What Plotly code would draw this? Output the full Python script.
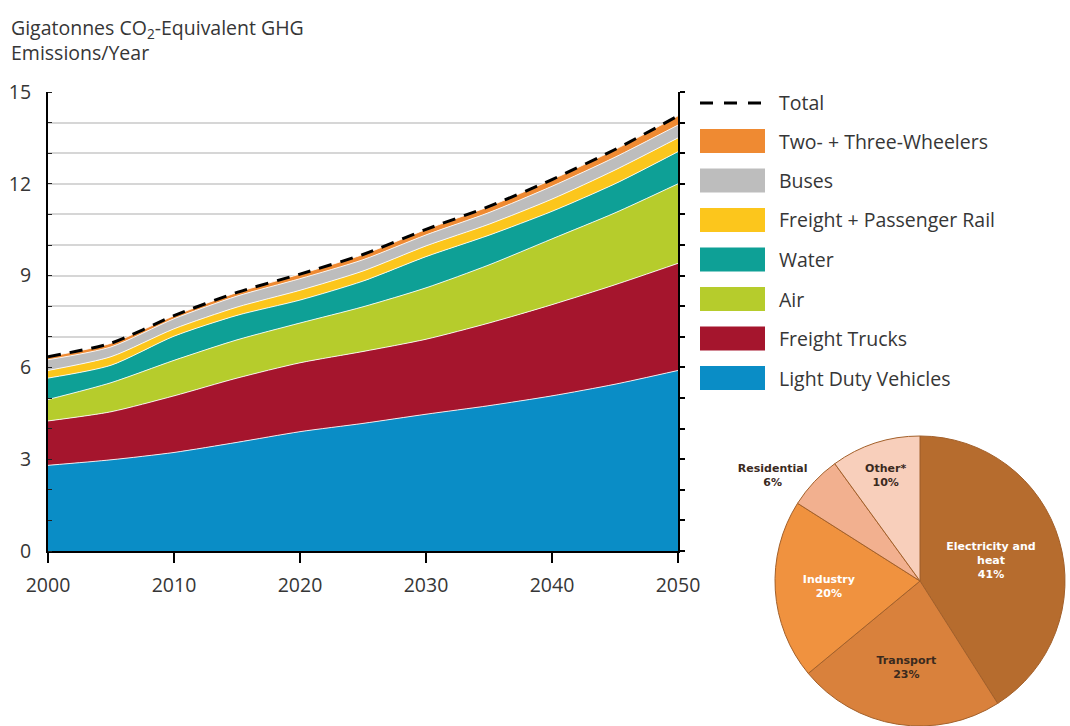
import plotly.graph_objects as go
import numpy as np

W, H = 1070, 726

# ---------------- data ----------------
years = [2000, 2005, 2010, 2015, 2020, 2025, 2030, 2035, 2040, 2045, 2050]

light_duty = [2.80, 2.98, 3.22, 3.55, 3.90, 4.17, 4.47, 4.75, 5.07, 5.45, 5.90]
freight_trucks = [1.45, 1.57, 1.85, 2.10, 2.25, 2.35, 2.45, 2.70, 2.98, 3.25, 3.50]
air = [0.70, 0.95, 1.16, 1.25, 1.30, 1.46, 1.68, 1.90, 2.15, 2.35, 2.60]
water = [0.70, 0.57, 0.79, 0.80, 0.75, 0.84, 1.02, 0.97, 0.90, 0.95, 1.05]
rail = [0.25, 0.28, 0.24, 0.27, 0.32, 0.33, 0.35, 0.36, 0.40, 0.45, 0.45]
buses = [0.35, 0.32, 0.33, 0.36, 0.38, 0.37, 0.36, 0.38, 0.42, 0.42, 0.42]
two_three = [0.10, 0.12, 0.10, 0.12, 0.15, 0.17, 0.18, 0.20, 0.22, 0.25, 0.30]

series_names = ["Light Duty Vehicles", "Freight Trucks", "Air", "Water",
                "Freight + Passenger Rail", "Buses", "Two- + Three-Wheelers"]
series_values = [light_duty, freight_trucks, air, water, rail, buses, two_three]
series_colors = ["#0a8dc6", "#a5152d", "#b6cc2c", "#0ea096", "#fcc61c", "#bdbdbd", "#ef8a32"]

total = np.sum(np.array(series_values), axis=0)

y_ticks = [0, 3, 6, 9, 12, 15]
x_ticks = [2000, 2010, 2020, 2030, 2040, 2050]

pie_labels = ["Electricity and<br>heat", "Transport", "Industry", "Residential", "Other*"]
pie_values = [41, 23, 20, 6, 10]
pie_colors = ["#b66c2e", "#d9813c", "#f0923f", "#f2b08f", "#f8cfbb"]
pie_text_colors = ["white", "#3b2a1e", "white", "#3b2a1e", "#3b2a1e"]
pie_text_pos = ["inside", "inside", "inside", "outside", "inside"]

# ---------------- helpers ----------------
def px(x):
    return x / W

def py(y):
    return 1 - y / H

FONT = "Open Sans"
TXT = "#363636"
FS = 19.5

fig = go.Figure()

for name, vals, col in zip(series_names, series_values, series_colors):
    fig.add_trace(go.Scatter(
        x=years, y=vals, name=name, stackgroup="one", mode="lines",
        line=dict(color="rgba(255,255,255,0.85)", width=1, shape="spline", smoothing=0.7),
        fillcolor=col, showlegend=False, hoverinfo="skip",
        xaxis="x", yaxis="y"))

fig.add_trace(go.Scatter(
    x=years, y=total, name="Total", mode="lines",
    line=dict(color="black", width=3, dash="13px,9px", shape="spline", smoothing=0.7),
    showlegend=False, hoverinfo="skip", xaxis="x", yaxis="y2"))

fig.add_trace(go.Pie(
    labels=pie_labels, values=pie_values, sort=False, direction="clockwise",
    rotation=0, marker=dict(colors=pie_colors, line=dict(color="#a3602a", width=1)),
    texttemplate="<b>%{label}<br>%{value}%</b>", textposition=pie_text_pos,
    insidetextorientation="horizontal",
    textfont=dict(family="DejaVu Sans", size=11, color=pie_text_colors),
    domain=dict(x=[px(774), px(1066)], y=[0, py(436)]),
    showlegend=False, hoverinfo="skip"))

xdom = [px(48), px(678)]
ydom = [py(551), py(92)]

fig.update_layout(
    template="none",
    width=W, height=H, autosize=False,
    margin=dict(l=0, r=0, t=0, b=0, pad=0, autoexpand=False),
    paper_bgcolor="white", plot_bgcolor="white",
    font=dict(family=FONT, color=TXT, size=FS),
    showlegend=False,
    xaxis=dict(domain=xdom, range=[2000, 2050], tickvals=x_ticks, automargin=False,
               ticks="outside", ticklen=10, tickwidth=2, tickcolor="black",
               ticklabelstandoff=6,
               showline=True, linecolor="black", linewidth=2, showgrid=False,
               zeroline=False, tickfont=dict(size=FS, color=TXT), anchor="y"),
    yaxis=dict(domain=ydom, range=[0, 15], tickvals=y_ticks, automargin=False,
               showline=True, linecolor="black", linewidth=2, zeroline=False,
               showgrid=True, gridcolor="#d6d6d6", gridwidth=1.5,
               ticks="", ticklabelstandoff=11,
               minor=dict(dtick=1, showgrid=True, gridcolor="#d6d6d6", gridwidth=1.5,
                          ticks="inside", ticklen=4, tickcolor="#222"),
               tickfont=dict(size=FS, color=TXT), anchor="x"),
    yaxis2=dict(overlaying="y", side="right", range=[0, 15], anchor="x", automargin=False,
                showline=True, linecolor="black", linewidth=2, zeroline=False,
                showgrid=False, dtick=1, ticks="outside", ticklen=5, tickwidth=1.5,
                tickcolor="black", showticklabels=False),
)

# title
fig.add_annotation(xref="paper", yref="paper", x=px(9), y=py(12),
                   xanchor="left", yanchor="top", align="left", showarrow=False,
                   text="Gigatonnes CO<sub>2</sub>-Equivalent GHG<br>Emissions/Year",
                   font=dict(size=FS, color=TXT, family=FONT))

# custom legend
fig.add_shape(type="line", xref="paper", yref="paper",
              x0=px(700), x1=px(765), y0=py(103), y1=py(103),
              line=dict(color="black", width=3, dash="13px,11px"))
fig.add_annotation(xref="paper", yref="paper", x=px(777), y=py(103),
                   xanchor="left", yanchor="middle", showarrow=False,
                   text="Total", font=dict(size=FS, color=TXT, family=FONT))

row0, step = 141, 39.5
for i, (name, col) in enumerate(zip(series_names[::-1], series_colors[::-1])):
    yc = row0 + i * step
    fig.add_shape(type="rect", xref="paper", yref="paper",
                  x0=px(700), x1=px(765), y0=py(yc - 12), y1=py(yc + 12),
                  fillcolor=col, line=dict(width=0))
    fig.add_annotation(xref="paper", yref="paper", x=px(777), y=py(yc),
                       xanchor="left", yanchor="middle", showarrow=False,
                       text=name, font=dict(size=FS, color=TXT, family=FONT))

fig.write_html("out.html", config={"displayModeBar": False},
               post_script="document.body.style.margin='0';document.body.style.overflow='hidden';")
